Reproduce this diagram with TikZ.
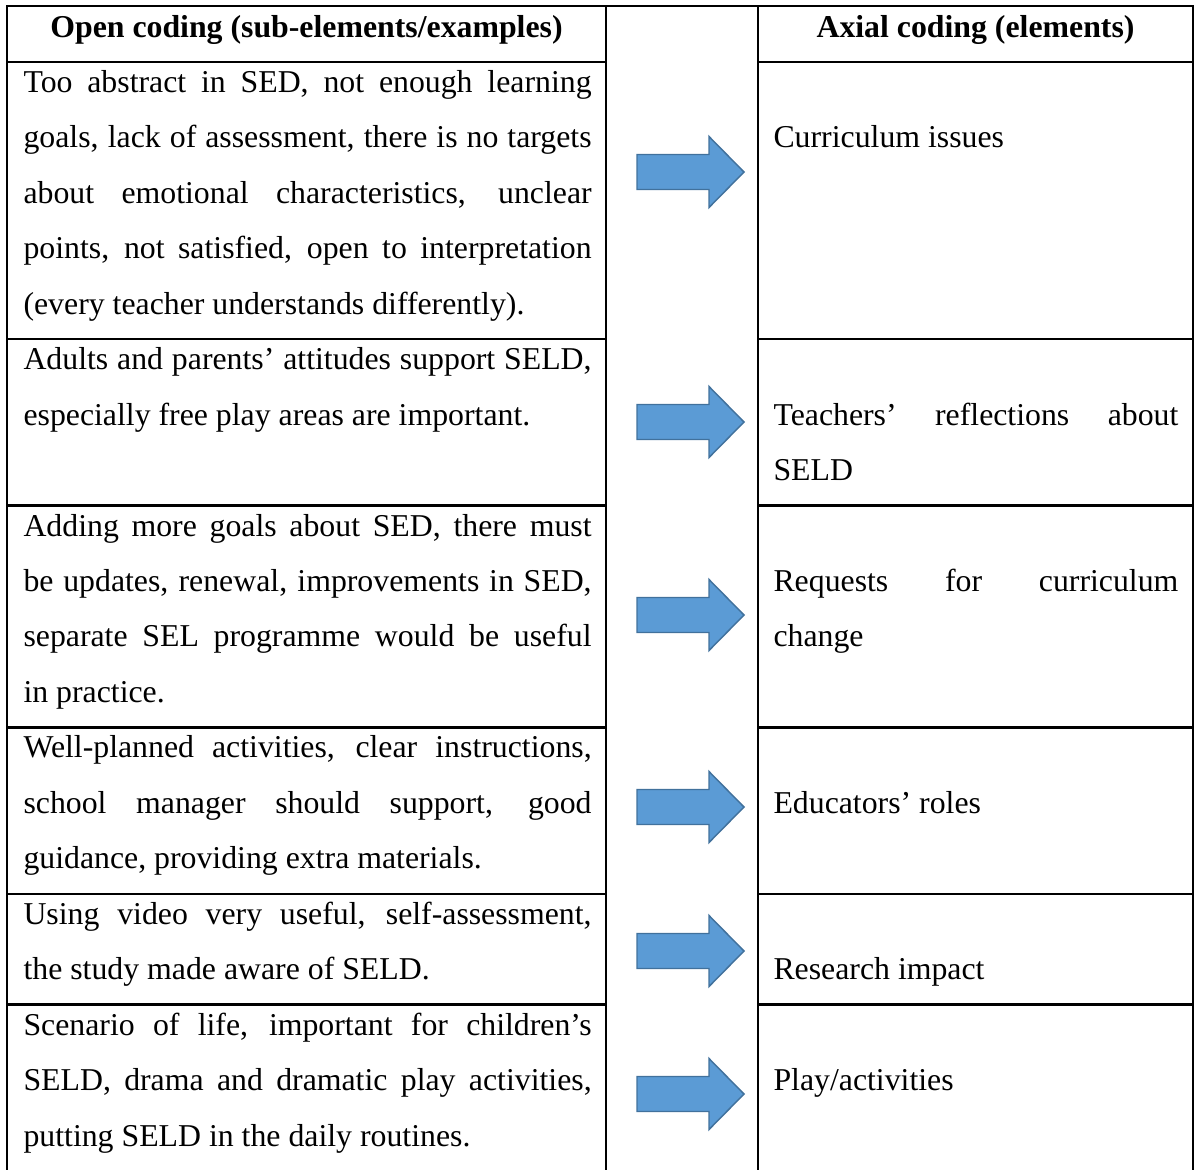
\documentclass[tikz,border=0pt]{standalone}
\usepackage{fontspec}
\setmainfont{Liberation Serif}
\definecolor{arrowfill}{HTML}{5B9BD5}
\definecolor{arrowedge}{HTML}{41719C}
\hyphenpenalty=10000\relax
\exhyphenpenalty=10000\relax
\def\blockarrow(#1){\draw[arrowblue] (637, #1-17.5) -- (709, #1-17.5) -- (709, #1-35.5) -- (744, #1) -- (709, #1+35.5) -- (709, #1+17.5) -- (637, #1+17.5) -- cycle;}

\begin{document}
\begin{tikzpicture}[x=0.3774pt, y=-0.3774pt,
		gridline/.style={line width=0.9pt},
		arrowblue/.style={fill=arrowfill, draw=arrowedge, line width=0.55pt},
		headtext/.style={font=\bfseries\fontsize{12pt}{20.93pt}\selectfont, inner sep=0pt, anchor=base},
		opentext/.style={font=\fontsize{12pt}{20.93pt}\selectfont, text width=214.4pt, align=justify, inner sep=0pt, anchor=base west},
		axialtext/.style={opentext, text width=152.8pt}]
			%%%%% START %%%%%
			
			\useasboundingbox (0, 0) rectangle (1196, 1169);
			
			\draw[gridline] (7, 1172) -- (7, 6) -- (1193, 6) -- (1193, 1172);
			\draw[gridline] (606, 6) -- (606, 1172);
			\draw[gridline] (758, 6) -- (758, 1172);
			
			\draw[gridline] (7, 61.95) -- (606, 61.95);
			\draw[gridline] (758, 61.95) -- (1193, 61.95);
			\draw[gridline] (7, 339.2) -- (606, 339.2);
			\draw[gridline] (758, 339.2) -- (1193, 339.2);
			\draw[gridline] (7, 505.55) -- (606, 505.55);
			\draw[gridline] (758, 505.55) -- (1193, 505.55);
			\draw[gridline] (7, 727.35) -- (606, 727.35);
			\draw[gridline] (758, 727.35) -- (1193, 727.35);
			\draw[gridline] (7, 893.7) -- (606, 893.7);
			\draw[gridline] (758, 893.7) -- (1193, 893.7);
			\draw[gridline] (7, 1004.6) -- (606, 1004.6);
			\draw[gridline] (758, 1004.6) -- (1193, 1004.6);
			
			\node[headtext] (openhead) at (306.5, 37) {Open coding (sub-elements/examples)};
			\node[headtext] (axialhead) at (975.5, 37) {Axial coding (elements)};
			
			\node[opentext] (open1) at (23, 92.45) {Too abstract in SED, not enough learning\linebreak goals, lack of assessment, there is no targets\linebreak about emotional characteristics, unclear\linebreak points, not satisfied, open to interpretation\linebreak (every teacher understands differently).};
			\node[opentext] (open2) at (23, 369.7) {Adults and parents’ attitudes support SELD,\linebreak especially free play areas are important.};
			\node[opentext] (open3) at (23, 536.05) {Adding more goals about SED, there must\linebreak be updates, renewal, improvements in SED,\linebreak separate SEL programme would be useful\linebreak in practice.};
			\node[opentext] (open4) at (23, 757.85) {Well-planned activities, clear instructions,\linebreak school manager should support, good\linebreak guidance, providing extra materials.};
			\node[opentext] (open5) at (23, 924.2) {Using video very useful, self-assessment,\linebreak the study made aware of SELD.};
			\node[opentext] (open6) at (23, 1035.1) {Scenario of life, important for children’s\linebreak SELD, drama and dramatic play activities,\linebreak putting SELD in the daily routines.};
			
			\blockarrow(172)
			\blockarrow(422)
			\blockarrow(615)
			\blockarrow(807)
			\blockarrow(951)
			\blockarrow(1094)
			
			\node[axialtext] (axial1) at (773, 147.9) {Curriculum issues};
			\node[axialtext] (axial2) at (773, 425.15) {Teachers’ reflections about\linebreak SELD};
			\node[axialtext] (axial3) at (773, 591.5) {Requests for curriculum\linebreak change};
			\node[axialtext] (axial4) at (773, 813.3) {Educators’ roles};
			\node[axialtext] (axial5) at (773, 979.65) {Research impact};
			\node[axialtext] (axial6) at (773, 1090.55) {Play/activities};
			
			%%%%% END %%%%%
\end{tikzpicture}
\end{document}
